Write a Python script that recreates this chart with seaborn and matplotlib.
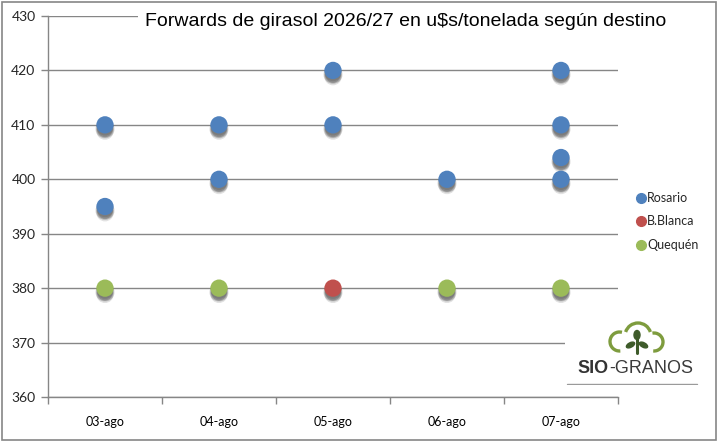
import pandas as pd
import matplotlib.pyplot as plt
import matplotlib.patheffects as pe
from matplotlib.patches import Arc, Ellipse, Rectangle
import seaborn as sns

# --- data ---
dates = ['03-ago', '04-ago', '05-ago', '06-ago', '07-ago']

rosario_dates = ['03-ago', '03-ago', '04-ago', '04-ago', '05-ago', '05-ago', '06-ago', '07-ago', '07-ago', '07-ago', '07-ago']
rosario_vals = [410, 395, 410, 400, 420, 410, 400, 420, 410, 404, 400]

bblanca_dates = ['05-ago']
bblanca_vals = [380]

quequen_dates = ['03-ago', '04-ago', '06-ago', '07-ago']
quequen_vals = [380, 380, 380, 380]

series = ['Rosario', 'B.Blanca', 'Quequén']
colors = ['#4F81BD', '#C0504D', '#9BBB59']

df = pd.concat([
    pd.DataFrame({'fecha': rosario_dates, 'precio': rosario_vals, 'destino': 'Rosario'}),
    pd.DataFrame({'fecha': bblanca_dates, 'precio': bblanca_vals, 'destino': 'B.Blanca'}),
    pd.DataFrame({'fecha': quequen_dates, 'precio': quequen_vals, 'destino': 'Quequén'}),
])
df['x'] = df['fecha'].map({d: i for i, d in enumerate(dates)})

sns.set_theme(style="white")
plt.rcParams['font.family'] = ['Lato', 'DejaVu Sans']

W, H = 722, 447
fig = plt.figure(figsize=(7.22, 4.47), dpi=100)
ax = fig.add_axes([48 / W, 1 - 397 / H, 570 / W, 381 / H])

sns.scatterplot(data=df, x='x', y='precio', hue='destino', hue_order=series,
                palette=colors, s=155, linewidth=0, ax=ax, legend=False, zorder=3)
# soft drop shadow, built from a few faint offset copies
shadow = [pe.SimplePatchShadow(offset=(dx, dy), shadow_rgbFace='#111111', alpha=0.12)
          for dx, dy in [(0, -1.5), (0, -2.5), (0, -3.5), (-0.7, -3), (0.7, -3), (0, -4.5)]]
for coll in ax.collections:
    coll.set_path_effects(shadow + [pe.Normal()])

ax.set_xlim(-0.5, len(dates) - 0.5)
ax.set_ylim(360, 430)
ax.set_yticks(range(360, 431, 10))
ax.set_xticks(range(len(dates)))
ax.set_xticklabels(dates)
ax.set_xticks([i - 0.5 for i in range(len(dates) + 1)], minor=True)
ax.tick_params(axis='x', which='major', length=0, pad=14, labelsize=9, colors='black')
ax.tick_params(axis='x', which='minor', length=5, width=1, color='#868686', direction='out', bottom=True)
ax.tick_params(axis='y', length=5, width=1, color='#868686', direction='out', left=True, labelsize=10, pad=4)
ax.yaxis.grid(True, color='#868686', linewidth=1)
ax.set_axisbelow(True)
for side in ['top', 'right']:
    ax.spines[side].set_visible(False)
for side in ['left', 'bottom']:
    ax.spines[side].set_color('#868686')
    ax.spines[side].set_linewidth(1)
ax.set_xlabel('')
ax.set_ylabel('')

# title on a white box, covering the top gridline
fig.text(406 / W, 1 - 21 / H, 'Forwards de girasol 2026/27 en u$s/tonelada según destino',
         ha='center', va='center', fontsize=14.0, color='black', family='Liberation Sans',
         bbox=dict(facecolor='white', edgecolor='none', pad=5), zorder=10)

# legend
for i, (name, c) in enumerate(zip(series, colors)):
    yy = 1 - (198 + i * 23.5) / H
    fig.text(647 / W, yy, name, ha='left', va='center', fontsize=9)
    fig.add_artist(plt.Line2D([641 / W], [yy], marker='o', markersize=7, color=c, linestyle='none'))

# logo (coordinates in pixels, y measured upwards)
lax = fig.add_axes([565 / W, 1 - 385 / H, 145 / W, 65 / H], zorder=5)
lax.set_xlim(565, 710)
lax.set_ylim(447 - 385, 447 - 320)
lax.axis('off')
lax.add_patch(Rectangle((565, 62), 145, 65, facecolor='white', edgecolor='none'))
green = '#7E9C3E'
dark = '#3E5B2A'
lax.add_patch(Arc((619.5, 105.5), 19, 19, theta1=75, theta2=275, color=green, lw=2.4))
lax.add_patch(Arc((638, 111), 26, 26, theta1=18, theta2=162, color=green, lw=2.4))
lax.add_patch(Arc((654, 105), 18, 18, theta1=-95, theta2=100, color=green, lw=2.4))
lax.plot([637, 637], [94, 110], color=dark, lw=2.2)
lax.add_patch(Ellipse((637, 112), 6, 9, color=dark))
lax.add_patch(Ellipse((630.5, 102), 9, 4.5, angle=28, color=dark))
lax.add_patch(Ellipse((643.5, 102), 9, 4.5, angle=-28, color=dark))
lax.text(609, 447 - 368.5, 'SIO', ha='right', va='center', fontsize=13, fontweight='bold',
         color='#333333', family='Liberation Sans')
lax.text(609, 447 - 368.5, '-GRANOS', ha='left', va='center', fontsize=13,
         color='#3B3B3B', family='Liberation Sans')
lax.plot([567, 697], [447 - 384, 447 - 384], color='#9A9A9A', lw=1)

# outer chart border
fig.patches.append(Rectangle((2 / W, 1 - 440 / H), 714 / W, 438 / H, transform=fig.transFigure,
                             facecolor='none', edgecolor='#868686', lw=1.2))

fig.savefig('out.png', dpi=100)
